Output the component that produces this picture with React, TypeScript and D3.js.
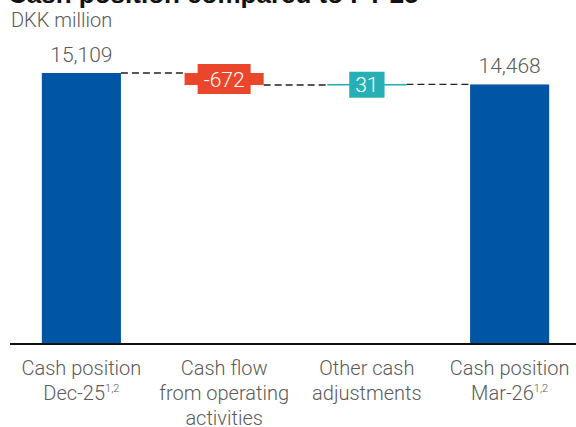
import React, { useEffect, useRef } from "react";
import * as d3 from "d3";

const title = "Cash position compared to FY'25";
const unitLabel = "DKK million";
const categoryLines: string[][] = [
  ["Cash position", "Dec-25"],
  ["Cash flow", "from operating", "activities"],
  ["Other cash", "adjustments"],
  ["Cash position", "Mar-26"],
];
const categorySup: string[] = ["1,2", "", "", "1,2"];
const values: number[] = [15109, -672, 31, 14468];
const kinds: string[] = ["total", "delta", "delta", "total"];
const valueLabels: string[] = ["15,109", "-672", "31", "14,468"];

const W = 576;
const H = 427;
const BLUE = "#0055a5";
const RED = "#ea462c";
const TEAL = "#26b0b5";
const GREY = "#5a5a5a";
const FONT = "Roboto, 'Liberation Sans', Arial, sans-serif";

export default function App() {
  const ref = useRef<SVGSVGElement | null>(null);

  useEffect(() => {
    const svg = d3.select(ref.current);
    svg.selectAll("*").remove();

    const x = d3
      .scaleBand<number>()
      .domain(values.map((_, i) => i))
      .range([10, 581])
      .paddingInner(0.446)
      .paddingOuter(0.223);
    const y = d3
      .scaleLinear()
      .domain([0, d3.max(values) as number])
      .range([343, 73]);

    let running = 0;
    const bars = values.map((v, i) => {
      let y0: number, y1: number;
      if (kinds[i] === "total") {
        y0 = 0;
        y1 = v;
        running = v;
      } else {
        y0 = running;
        y1 = running + v;
        running = y1;
      }
      return { i, v, y0, y1, lo: Math.min(y0, y1), hi: Math.max(y0, y1) };
    });

    // title (cut off at top, as in the reference)
    svg
      .append("text")
      .attr("x", 8)
      .attr("y", 3)
      .attr("font-family", "'Liberation Sans', Arial, sans-serif")
      .attr("font-weight", 700)
      .attr("font-size", 26)
      .attr("fill", "#111")
      .text(title);

    svg
      .append("text")
      .attr("x", 11)
      .attr("y", 27)
      .attr("font-family", FONT)
      .attr("font-weight", 300)
      .attr("font-size", 20)
      .attr("fill", GREY)
      .text(unitLabel);

    // connectors
    for (let k = 0; k < bars.length - 1; k++) {
      const a = bars[k];
      const b = bars[k + 1];
      const level = a.y1;
      const xa = (x(a.i) as number) + x.bandwidth();
      const xb = x(b.i) as number;
      svg
        .append("line")
        .attr("x1", xa)
        .attr("x2", xb)
        .attr("y1", y(level))
        .attr("y2", y(level))
        .attr("stroke", "#222")
        .attr("stroke-width", 1.3)
        .attr("stroke-dasharray", "7,4");
    }

    // bars
    bars.forEach((b) => {
      const color = kinds[b.i] === "total" ? BLUE : b.v < 0 ? RED : TEAL;
      const top = y(b.hi);
      const realH = y(b.lo) - y(b.hi);
      const h = Math.max(1.6, realH);
      svg
        .append("rect")
        .attr("x", x(b.i) as number)
        .attr("width", x.bandwidth())
        .attr("y", top + realH / 2 - h / 2)
        .attr("height", h)
        .attr("fill", color);
    });

    // value labels
    bars.forEach((b) => {
      const cx = (x(b.i) as number) + x.bandwidth() / 2;
      if (kinds[b.i] === "total") {
        svg
          .append("text")
          .attr("x", cx)
          .attr("y", y(b.hi) - 11)
          .attr("text-anchor", "middle")
          .attr("font-family", FONT)
          .attr("font-weight", 300)
          .attr("font-size", 21)
          .attr("fill", GREY)
          .text(valueLabels[b.i]);
      } else {
        const color = b.v < 0 ? RED : TEAL;
        const cy = (y(b.hi) + y(b.lo)) / 2;
        const g = svg.append("g");
        const rect = g.append("rect").attr("fill", color);
        const t = g
          .append("text")
          .attr("x", cx)
          .attr("y", cy)
          .attr("dy", "0.36em")
          .attr("text-anchor", "middle")
          .attr("font-family", FONT)
          .attr("font-weight", 300)
          .attr("font-size", 21)
          .attr("fill", "#fff")
          .text(valueLabels[b.i]);
        const tw = (t.node() as SVGTextElement).getComputedTextLength();
        const bh = b.v < 0 ? 30 : 26;
        rect
          .attr("x", cx - tw / 2 - 6)
          .attr("width", tw + 12)
          .attr("y", cy - bh / 2)
          .attr("height", bh);
      }
    });

    // axis line
    svg
      .append("line")
      .attr("x1", x.range()[0])
      .attr("x2", x.range()[1])
      .attr("y1", 344)
      .attr("y2", 344)
      .attr("stroke", "#111")
      .attr("stroke-width", 2);

    // category labels
    categoryLines.forEach((lines, i) => {
      const cx = (x(i) as number) + x.bandwidth() / 2;
      lines.forEach((ln, j) => {
        const t = svg
          .append("text")
          .attr("x", cx)
          .attr("y", 375 + j * 25)
          .attr("text-anchor", "middle")
          .attr("font-family", FONT)
          .attr("font-weight", 300)
          .attr("font-size", 20)
          .attr("fill", GREY);
        t.append("tspan").text(ln);
        if (j === lines.length - 1 && categorySup[i]) {
          t.append("tspan")
            .attr("font-size", 11)
            .attr("dy", -8)
            .text(categorySup[i]);
        }
      });
    });
  }, []);

  return (
    <svg
      ref={ref}
      width={W}
      height={H}
      style={{ position: "absolute", left: 0, top: 0, background: "#fff" }}
    />
  );
}
